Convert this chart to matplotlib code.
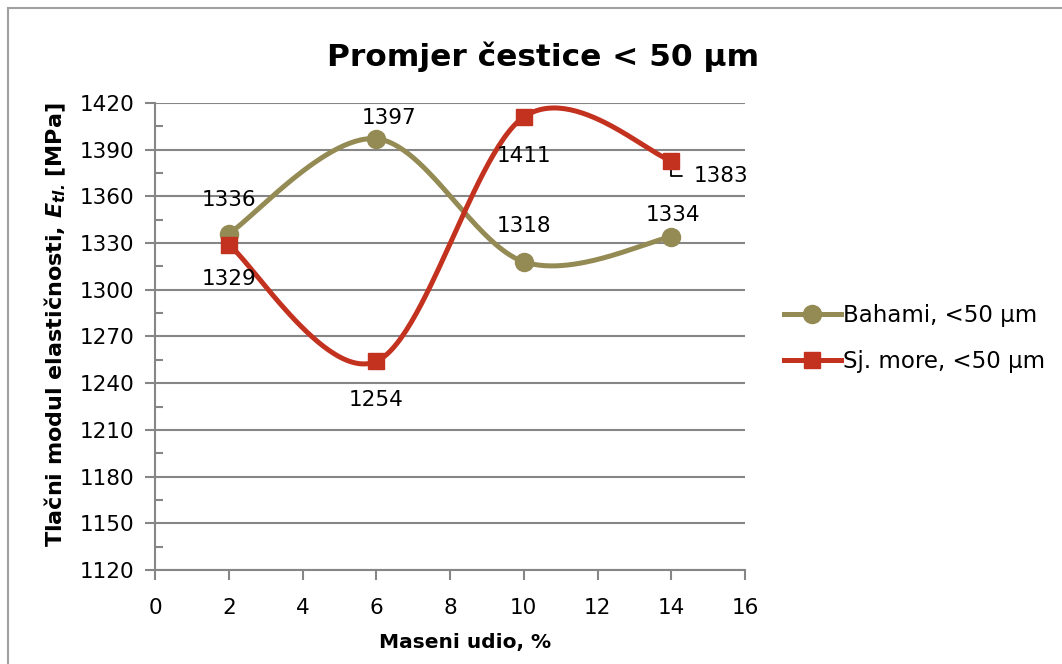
import numpy as np
import matplotlib.pyplot as plt
from matplotlib.patches import Rectangle

udio = [2, 6, 10, 14]
bahami = [1336, 1397, 1318, 1334]
sj_more = [1329, 1254, 1411, 1383]

bahami_name = 'Bahami, <50 µm'
sj_more_name = 'Sj. more, <50 µm'
xticks = np.arange(0, 17, 2)
yticks = np.arange(1120, 1421, 30)

olive = '#948a54'
red = '#c3311f'
grey = '#868686'


def smooth(x, y, n=60):
    # Bezier smoothing through every point (same idea as spreadsheet "smoothed line")
    p = np.column_stack([x, y]).astype(float)
    p = np.vstack([p[0], p, p[-1]])
    out = []
    t = np.linspace(0, 1, n)[:, None]
    for i in range(1, len(p) - 2):
        p0, p1, p2, p3 = p[i - 1], p[i], p[i + 1], p[i + 2]
        c1 = p1 + (p2 - p0) / 6
        c2 = p2 - (p3 - p1) / 6
        seg = ((1 - t) ** 3) * p1 + 3 * ((1 - t) ** 2) * t * c1 + 3 * (1 - t) * t ** 2 * c2 + t ** 3 * p2
        out.append(seg if i == 1 else seg[1:])
    out = np.vstack(out)
    return out[:, 0], out[:, 1]


plt.rcParams['font.family'] = 'DejaVu Sans'
plt.rcParams['mathtext.fontset'] = 'dejavusans'

fig = plt.figure(figsize=(10.62, 6.64), dpi=100)
ax = fig.add_axes([0.146, 0.1416, 0.5555, 0.7033])

# chart frame
fig.patches.append(Rectangle((8 / 1062, -0.5), 2, 1.5 - 8 / 664, transform=fig.transFigure,
                             fill=False, edgecolor='#a0a0a0', linewidth=1.5))

sx, sy = smooth(udio, bahami)
ax.plot(sx, sy, color=olive, lw=3.6, solid_capstyle='round', zorder=3)
ax.plot(udio, bahami, 'o', color=olive, ms=13, zorder=4)
sx, sy = smooth(udio, sj_more)
ax.plot(sx, sy, color=red, lw=3.6, solid_capstyle='round', zorder=3)
ax.plot(udio, sj_more, 's', color=red, ms=12, zorder=4)

# legend handles
ax.plot([], [], '-o', color=olive, lw=3.6, ms=13, label=bahami_name)
ax.plot([], [], '-s', color=red, lw=3.6, ms=12, label=sj_more_name)

fs = 15.5
# data labels
ax.annotate(str(bahami[0]), (udio[0], bahami[0]), xytext=(0, 24), textcoords='offset points',
            ha='center', va='center', fontsize=fs)
ax.annotate(str(sj_more[0]), (udio[0], sj_more[0]), xytext=(0, -25), textcoords='offset points',
            ha='center', va='center', fontsize=fs)
ax.annotate(str(bahami[1]), (udio[1], bahami[1]), xytext=(9, 15), textcoords='offset points',
            ha='center', va='center', fontsize=fs)
ax.annotate(str(sj_more[1]), (udio[1], sj_more[1]), xytext=(0, -28), textcoords='offset points',
            ha='center', va='center', fontsize=fs)
ax.annotate(str(bahami[2]), (udio[2], bahami[2]), xytext=(0, 26), textcoords='offset points',
            ha='center', va='center', fontsize=fs)
ax.annotate(str(sj_more[2]), (udio[2], sj_more[2]), xytext=(0, -28), textcoords='offset points',
            ha='center', va='center', fontsize=fs)
ax.annotate(str(bahami[3]), (udio[3], bahami[3]), xytext=(1, 16), textcoords='offset points',
            ha='center', va='center', fontsize=fs)
ax.annotate(str(sj_more[3]), (udio[3], sj_more[3]), xytext=(16, -11), textcoords='offset points',
            ha='left', va='center', fontsize=fs,
            arrowprops=dict(arrowstyle='-', color='black', lw=1.3, shrinkA=6, shrinkB=5,
                            connectionstyle='angle,angleA=0,angleB=90,rad=0'))

ax.set_xlim(0, 16)
ax.set_ylim(1120, 1420)
ax.set_xticks(xticks)
ax.set_yticks(yticks)
ax.set_yticks(np.arange(1135, 1420, 30), minor=True)
ax.tick_params(axis='both', labelsize=fs, color=grey, width=1.5, length=7)
ax.tick_params(axis='x', pad=13)
ax.tick_params(axis='y', pad=8)
ax.tick_params(axis='y', which='minor', direction='in', length=6, color=grey, width=1.5)
ax.grid(axis='y', color=grey, lw=1.5)
ax.set_axisbelow(True)
for s in ['top', 'right']:
    ax.spines[s].set_visible(False)
for s in ['left', 'bottom']:
    ax.spines[s].set_color(grey)
    ax.spines[s].set_linewidth(1.5)

fig.text(0.511, 0.914, 'Promjer čestice < 50 µm', fontsize=22.5, fontweight='bold',
         ha='center', va='center')
ax.set_xlabel('Maseni udio, %', fontsize=14.5, fontweight='bold', labelpad=12)
ax.xaxis.set_label_coords(0.525, -0.135)
ax.set_ylabel(r'Tlačni modul elastičnosti, $\mathbfit{E}_{\mathbfit{tl.}}\,$[MPa]',
              fontsize=16, fontweight='bold')
ax.yaxis.set_label_coords(-0.147, 0.525)

fig.legend(loc='center left', bbox_to_anchor=(0.727, 0.49), frameon=False, fontsize=16.5,
           handlelength=2.5, handletextpad=0.1, labelspacing=1.0, borderpad=0)

fig.savefig('out.png', dpi=100)
